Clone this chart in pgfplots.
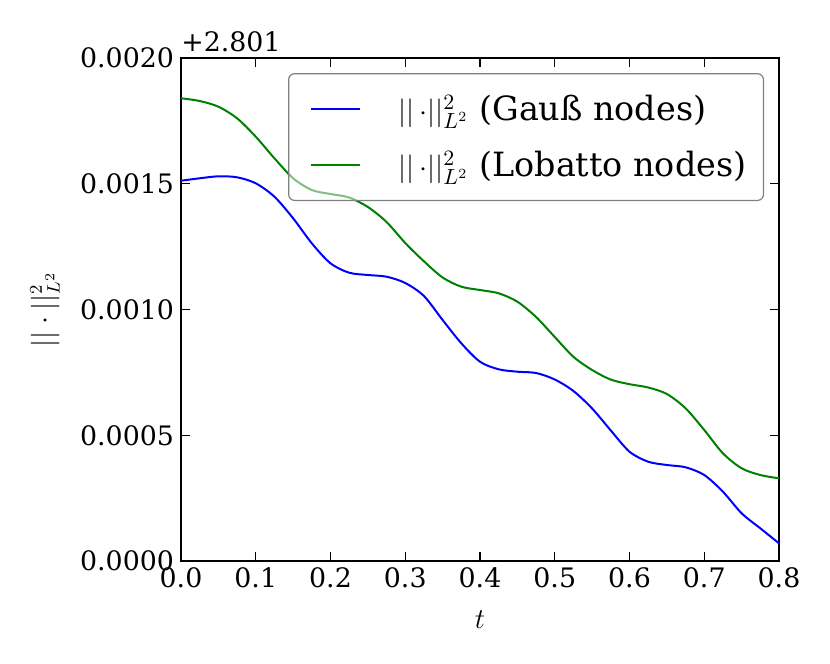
\documentclass[border=0pt]{standalone}
\usepackage{fontspec}
\setmainfont{DejaVu Serif}
\usepackage{pgfplots}
\pgfplotsset{compat=1.18}
\definecolor{mplgreen}{RGB}{0,128,0}
\definecolor{mplblue}{RGB}{0,0,255}
\newcommand{\nrm}{{\fontsize{15}{17}\selectfont$||\,{\cdot}||_{L^2}^2$}}
\begin{document}
\begin{tikzpicture}
\useasboundingbox (-90.5pt,-51.5pt) rectangle (324.5pt,280.5pt);
\begin{axis}[
  scale only axis,
  width=299pt, height=251.5pt,
  at={(0,0)}, anchor=south west,
  font=\fontsize{13.4}{16}\selectfont,
  xmin=0, xmax=0.8, ymin=0, ymax=0.002,
  xtick={0,0.1,...,0.8},
  ytick={0,0.0005,0.001,0.0015,0.002},
  scaled y ticks=false, scaled x ticks=false,
  xticklabel style={/pgf/number format/.cd, fixed, fixed zerofill, precision=1, assume math mode=true},
  yticklabel style={/pgf/number format/.cd, fixed, fixed zerofill, precision=4, assume math mode=true},
  tick align=inside, xtick pos=both, ytick pos=both,
  major tick length=4.5pt,
  tick style={black, line width=0.6pt},
  axis line style={black, line width=0.8pt},
  clip=false,
  every axis x label/.style={at={([yshift=-29.5pt]rel axis cs:0.5,0)}, anchor=center},
  every axis y label/.style={at={([xshift=-68pt]rel axis cs:0,0.5)}, anchor=center, rotate=90},
  xlabel={$t$},
  ylabel={$||\cdot||_{L^2}^2$},
  legend style={at={(0.975,0.97)}, anchor=north east, draw=gray, line width=0.6pt,
    rounded corners=3pt, fill=white, fill opacity=0.5, draw opacity=1, text opacity=1,
    inner xsep=6.5pt, inner ysep=8.5pt, row sep=10pt,
    font=\fontsize{16.7}{20}\selectfont},
  legend cell align=left,
  legend image code/.code={\path (0pt,0pt); \draw[#1, line width=1pt] (4pt,0pt) -- (28.5pt,0pt);},
  /tikz/every odd column/.append style={column sep=17pt},
]
\addplot[mplblue, line width=1pt, smooth] coordinates {
(0.000,0.0015121) (0.025,0.0015217) (0.050,0.0015296) (0.075,0.0015256) (0.100,0.0015018)
(0.125,0.0014485) (0.150,0.0013626) (0.175,0.0012632) (0.200,0.0011837) (0.225,0.0011463)
(0.250,0.0011372) (0.275,0.0011304) (0.300,0.0011054) (0.325,0.0010537) (0.350,0.0009583)
(0.375,0.0008656) (0.400,0.0007924) (0.425,0.0007622) (0.450,0.0007527) (0.475,0.0007475)
(0.500,0.0007217) (0.525,0.0006759) (0.550,0.0006064) (0.575,0.0005189) (0.600,0.0004346)
(0.625,0.0003948) (0.650,0.0003817) (0.675,0.0003726) (0.700,0.0003419) (0.725,0.0002755)
(0.750,0.0001897) (0.775,0.0001300) (0.800,0.0000704)
};
\addlegendentry{\nrm\hspace{5.5pt}(Gauß nodes)}
\addplot[mplgreen, line width=1pt, smooth] coordinates {
(0.000,0.0018398) (0.025,0.0018290) (0.050,0.0018064) (0.075,0.0017602) (0.100,0.0016871)
(0.125,0.0016012) (0.150,0.0015217) (0.175,0.0014751) (0.200,0.0014592) (0.225,0.0014453)
(0.250,0.0014076) (0.275,0.0013479) (0.300,0.0012644) (0.325,0.0011916) (0.350,0.0011272)
(0.375,0.0010907) (0.400,0.0010775) (0.425,0.0010644) (0.450,0.0010310) (0.475,0.0009702)
(0.500,0.0008907) (0.525,0.0008119) (0.550,0.0007594) (0.575,0.0007213) (0.600,0.0007030)
(0.625,0.0006899) (0.650,0.0006640) (0.675,0.0006072) (0.700,0.0005209) (0.725,0.0004282)
(0.750,0.0003686) (0.775,0.0003419) (0.800,0.0003288)
};
\addlegendentry{\nrm\hspace{5.5pt}(Lobatto nodes)}
\node[anchor=base west, inner sep=0pt] at ([yshift=3pt]rel axis cs:0,1) {+2.801};
\end{axis}
\end{tikzpicture}
\end{document}
